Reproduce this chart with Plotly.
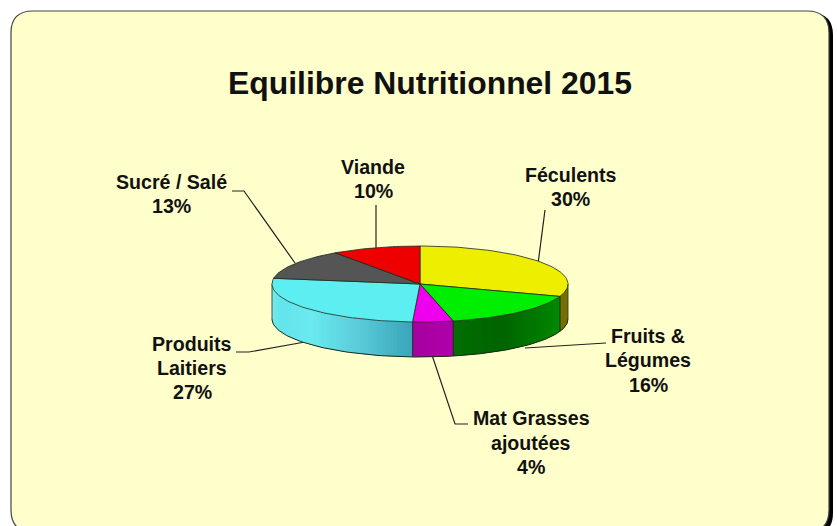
import math
import plotly.graph_objects as go

title = "Equilibre Nutritionnel 2015"
categories = ["Féculents", "Fruits & Légumes", "Mat Grasses ajoutées", "Produits Laitiers", "Sucré / Salé", "Viande"]
values = [30.3, 16.1, 4.4, 26.6, 12.9, 9.7]
top_colors = ["#EEEE00", "#00EE00", "#EE00EE", "#5CEEF0", "#555555", "#EE0000"]
side_stops = [
    [(118, 112, 0), (118, 112, 0)],
    [(0, 140, 0), (0, 122, 0), (0, 100, 0), (0, 112, 0)],
    [(176, 0, 170), (168, 0, 160)],
    [(58, 165, 185), (90, 205, 218), (106, 235, 240), (100, 228, 235), (120, 240, 240)],
    [(60, 60, 60), (60, 60, 60)],
    [(120, 0, 0), (120, 0, 0)],
]

CX, CY, RX, RY, DEPTH = 420, 284, 148, 38, 35
OUTLINE = "#1c2a1c"


def px(a):
    return CX + RX * math.sin(math.radians(a))


def py(a, dz=0):
    return CY - RY * math.cos(math.radians(a)) + dz


def mix(stops, t):
    t = max(0.0, min(1.0, t)) * (len(stops) - 1)
    i = min(int(t), len(stops) - 2)
    f = t - i
    c = [stops[i][k] + (stops[i + 1][k] - stops[i][k]) * f for k in range(3)]
    return "rgb(%d,%d,%d)" % tuple(c)


def rounded(x0, y0, x1, y1, r):
    return (f"M{x0+r},{y0} L{x1-r},{y0} Q{x1},{y0} {x1},{y0+r} L{x1},{y1-r} Q{x1},{y1} {x1-r},{y1} "
            f"L{x0+r},{y1} Q{x0},{y1} {x0},{y1-r} L{x0},{y0+r} Q{x0},{y0} {x0+r},{y0} Z")


fig = go.Figure()

# cumulative angles (clockwise from north)
total = sum(values)
angles = [0.0]
for v in values:
    angles.append(angles[-1] + v / total * 360)

# leader lines, underneath the pie
leaders = [
    [(232, 191), (244, 191), (295, 263)],
    [(376, 205), (376, 250)],
    [(545, 210), (538, 264)],
    [(606, 343), (525, 348)],
    [(432, 355), (455, 424), (468, 424)],
    [(236, 352), (249, 352), (305, 342)],
]
for pts in leaders:
    fig.add_trace(go.Scatter(x=[p[0] for p in pts], y=[p[1] for p in pts], mode="lines",
                             line=dict(color="#222222", width=1.2), hoverinfo="skip"))

# side walls: only the front half of the cylinder is visible
for i in range(len(values)):
    a0, a1 = max(angles[i], 90), min(angles[i + 1], 270)
    if a1 <= a0:
        continue
    n = max(2, int((a1 - a0) / 1.5))
    for s in range(n):
        b0 = a0 + (a1 - a0) * s / n
        b1 = min(a0 + (a1 - a0) * (s + 2) / n, a1)
        arc = [b0 + (b1 - b0) * k / 3 for k in range(4)]
        xs = [px(a) for a in arc] + [px(a) for a in arc[::-1]] + [px(arc[0])]
        ys = [py(a) for a in arc] + [py(a, DEPTH) for a in arc[::-1]] + [py(arc[0])]
        fig.add_trace(go.Scatter(x=xs, y=ys, mode="lines", fill="toself",
                                 fillcolor=mix(side_stops[i], (s + 0.5) / n),
                                 line=dict(width=0), hoverinfo="skip"))
    # seams between walls
    for a in (a0, a1):
        fig.add_trace(go.Scatter(x=[px(a), px(a)], y=[py(a), py(a, DEPTH)], mode="lines",
                                 line=dict(color=OUTLINE, width=0.8), hoverinfo="skip"))

# bottom rim of the wall
rim = [90 + 180 * k / 120 for k in range(121)]
fig.add_trace(go.Scatter(x=[px(a) for a in rim], y=[py(a, DEPTH) for a in rim], mode="lines",
                         line=dict(color=OUTLINE, width=1), hoverinfo="skip"))

# top slices
for i in range(len(values)):
    n = max(3, int((angles[i + 1] - angles[i]) / 1.5))
    arc = [angles[i] + (angles[i + 1] - angles[i]) * k / n for k in range(n + 1)]
    xs = [CX] + [px(a) for a in arc] + [CX]
    ys = [CY] + [py(a) for a in arc] + [CY]
    fig.add_trace(go.Scatter(x=xs, y=ys, mode="lines", fill="toself", fillcolor=top_colors[i],
                             line=dict(color=OUTLINE, width=0.8), hoverinfo="skip"))

# labels: (line texts with x, y of each)
percent = [f"{round(v)}%" for v in values]
label_lines = [
    [("Féculents", 571, 175), (percent[0], 570, 199)],
    [("Fruits &", 648, 336), ("Légumes", 648, 360), (percent[1], 648, 385)],
    [("Mat Grasses", 531, 418), ("ajoutées", 531, 443), (percent[2], 531, 467)],
    [("Produits", 192, 344), ("Laitiers", 192, 368), (percent[3], 192, 392)],
    [("Sucré / Salé", 171, 182), (percent[4], 171, 206)],
    [("Viande", 373, 167), (percent[5], 373, 191)],
]
annotations = [dict(x=x, y=y, text=t, showarrow=False, xref="x", yref="y",
                    font=dict(family="Liberation Sans", size=19.6, color="#111111", weight="bold"))
               for lines in label_lines for t, x, y in lines]
annotations.append(dict(x=430, y=83, text=title, showarrow=False, xref="x", yref="y",
                        font=dict(family="Liberation Sans", size=31.9, color="#111111", weight="bold")))

shapes = [
    dict(type="path", path=rounded(14, 13, 833, 535, 22), fillcolor="#000000", line_width=0, layer="below"),
    dict(type="path", path=rounded(11, 11, 829, 532, 22), fillcolor="#FFFFCC",
         line=dict(color="#444444", width=1.2), layer="below"),
]

fig.update_layout(
    width=837, height=526, margin=dict(l=0, r=0, t=0, b=0),
    paper_bgcolor="#FFFFFF", plot_bgcolor="rgba(0,0,0,0)", showlegend=False, hovermode=False,
    xaxis=dict(range=[0, 837], visible=False, fixedrange=True),
    yaxis=dict(range=[526, 0], visible=False, fixedrange=True),
    shapes=shapes, annotations=annotations,
)
fig.write_html("out.html", config=dict(displayModeBar=False),
               post_script="document.body.style.margin='0';")
